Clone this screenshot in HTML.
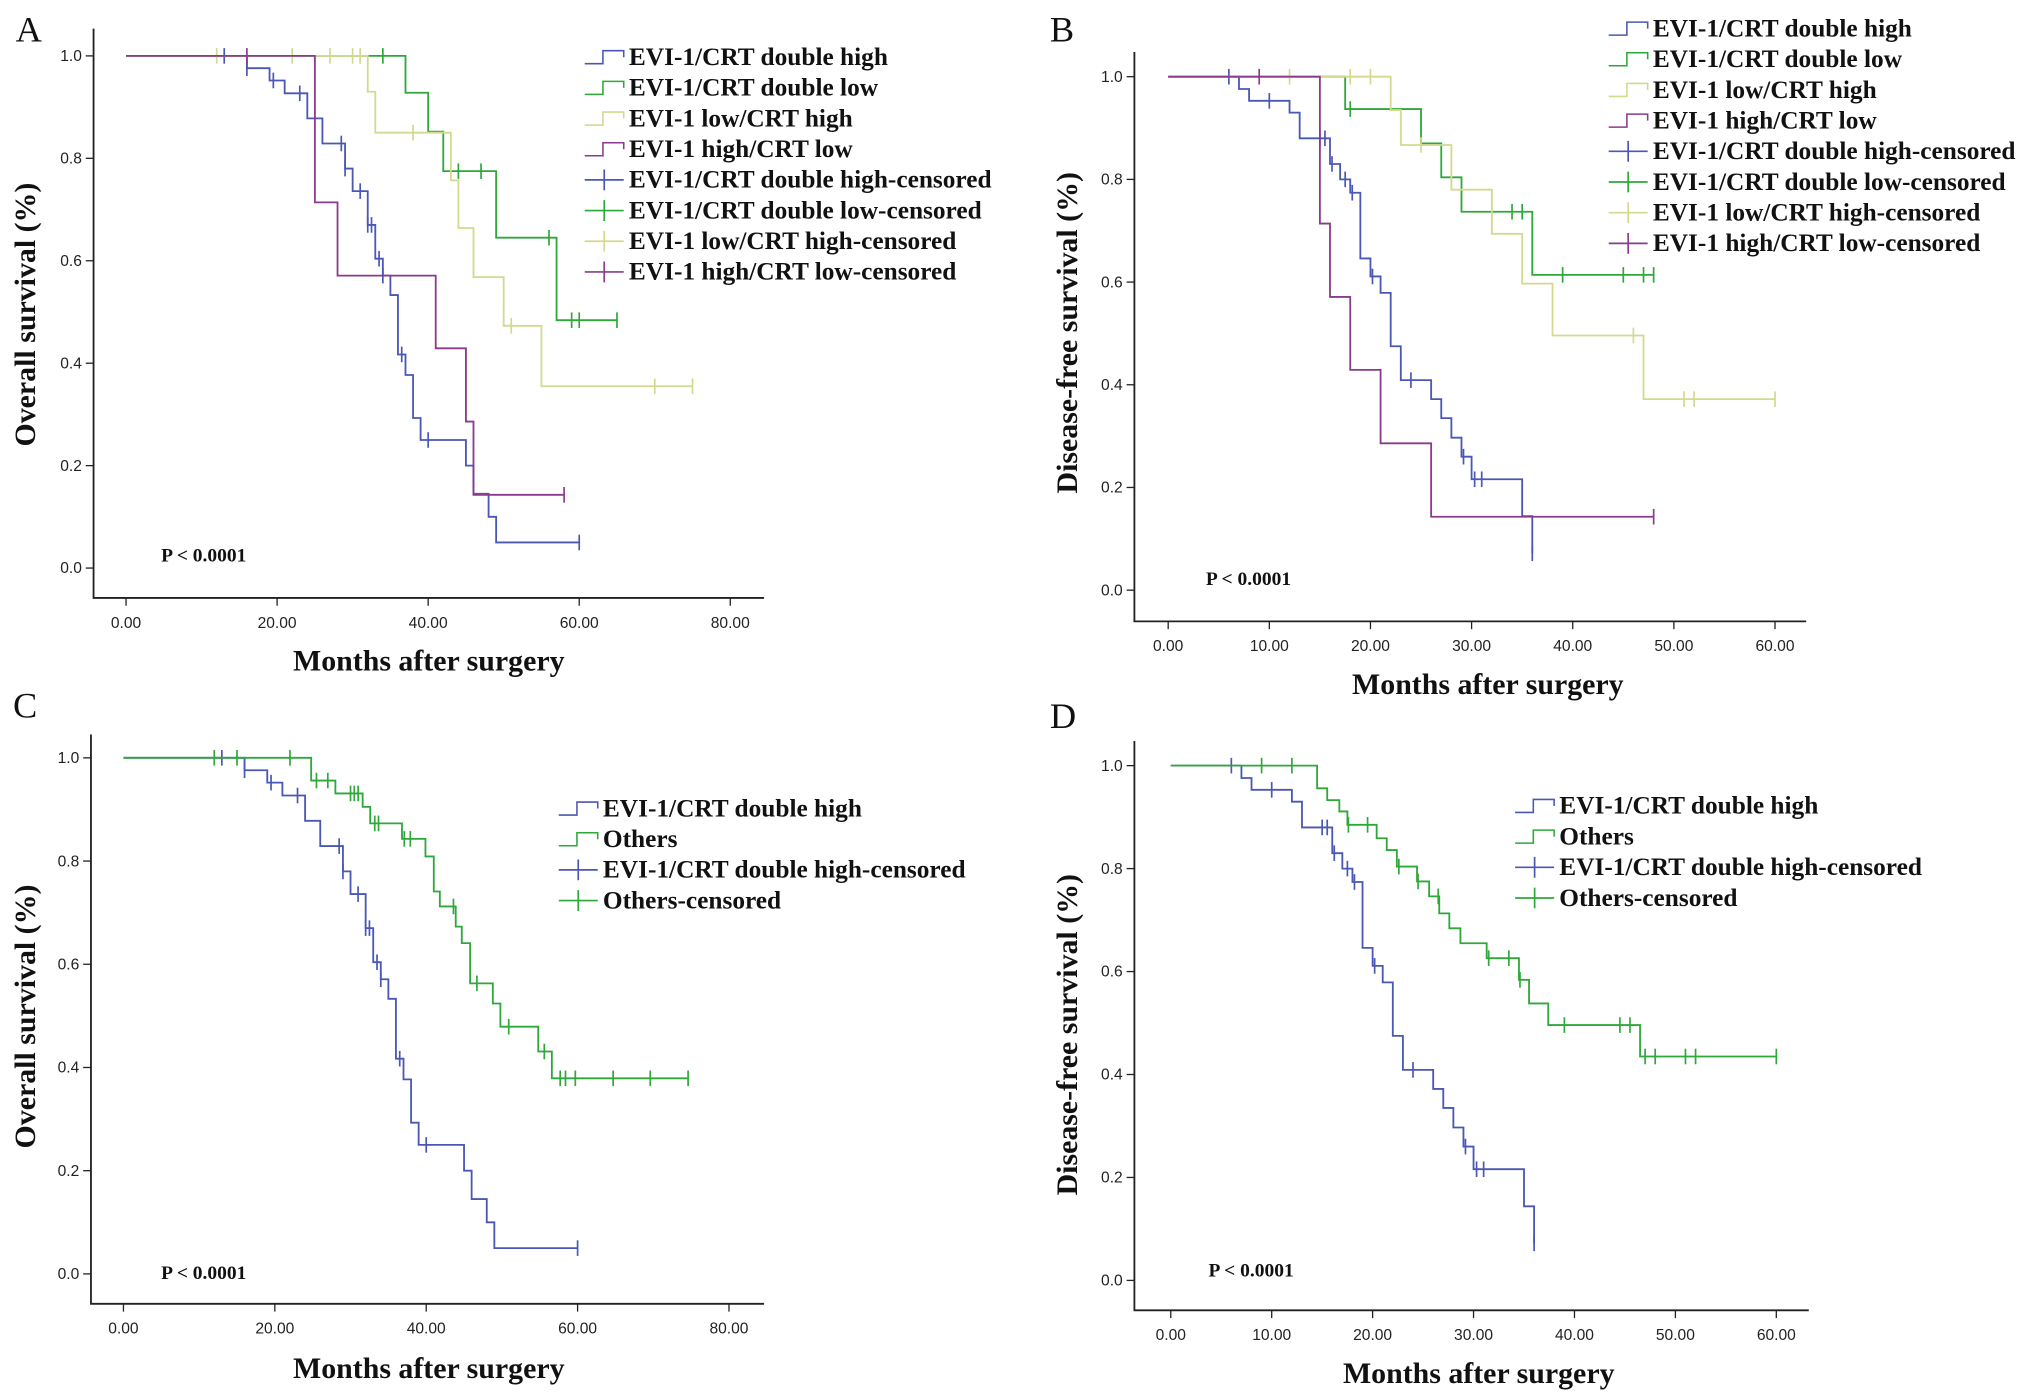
<!DOCTYPE html>
<html><head><meta charset="utf-8"><style>
html,body{margin:0;padding:0;background:#fff}
svg{display:block}
.tk{font-family:"Liberation Sans Narrow","Liberation Sans",sans-serif;font-size:12px;fill:#222}
.lg{font-family:"Liberation Serif",serif;font-weight:bold;font-size:19.5px;fill:#111}
.tt{font-family:"Liberation Serif",serif;font-weight:bold;font-size:23px;fill:#111}
.pl{font-family:"Liberation Serif",serif;font-size:28px;fill:#111}
.pv{font-family:"Liberation Serif",serif;font-weight:bold;font-size:15px;fill:#111}
</style></head><body>
<svg id="fig" width="2031" height="1400" viewBox="0 0 1563 1077" preserveAspectRatio="none" xmlns="http://www.w3.org/2000/svg"></svg>
<script>
// ---- data (months, survival) ----
const aHighT=[16,19,21,24,26,29,30,32,33,34,35,36,37,38,39,45,46,48,49];
const aHighS=[.976,.952,.927,.878,.829,.780,.736,.670,.604,.571,.533,.417,.377,.293,.250,.200,.145,.100,.050];
const aHighC=[13,16,19.5,23,28.5,29,31,32,32.5,33.5,34,36.5,40,60];
const aLowT=[37,40,42,49,57];
const aLowS=[.928,.852,.775,.645,.484];
const aLowC=[34,44,47,56,59,60,65];
const aLHT=[32,33,43,44,46,50,55];
const aLHS=[.93,.85,.757,.664,.568,.473,.355];
const aLHC=[12,22,27,30,31,38,51,70,75];
const aHLT=[25,28,41,45,46];
const aHLS=[.714,.571,.429,.286,.143];
const aHLC=[16,58];
const bHighT=[7,8,12,13,16,17,18,19,20,21,22,23,26,27,28,29,30,35,36];
const bHighS=[.976,.953,.93,.88,.83,.80,.774,.646,.611,.579,.475,.409,.372,.335,.297,.26,.216,.144,.072];
const bHighC=[6,10,15,15.5,16.2,17.5,18.2,20.2,24,29.2,30.3,31,36];
const bLowT=[17.5,25,27,29,36];
const bLowS=[.937,.87,.804,.737,.614];
const bLowC=[18,34,35,39,45,47,48];
const bLHT=[22,23,28,32,35,38,47];
const bLHS=[.935,.867,.78,.694,.597,.496,.372];
const bLHC=[12,18,20,25,46,51,52,60];
const bHLT=[15,16,18,21,26];
const bHLS=[.714,.571,.429,.286,.143];
const bHLC=[9,48];
const cOthT=[24.8,28,31.6,32.6,36.8,39.9,41,41.8,43.9,44.7,45.8,48.8,49.8,54.8,56.6];
const cOthS=[.956,.931,.905,.873,.843,.809,.741,.712,.673,.641,.563,.524,.479,.431,.379];
const cOthC=[12,15,22,25.5,27,30,30.5,31,33.2,33.7,37.1,37.9,43.6,46.7,50.9,55.6,57.7,58.4,59.7,64.7,69.6,74.6];
const dOthT=[14.5,15.5,16.7,17.5,20.4,21.4,22.4,24.4,25.6,26.6,27.6,28.7,31.3,34.5,35.5,37.4,46.5];
const dOthS=[.956,.933,.911,.885,.859,.836,.804,.775,.746,.713,.684,.655,.626,.584,.538,.496,.435];
const dOthC=[9,12,17.6,19.5,22.6,24.5,26.5,31.5,33.5,34.6,39,44.5,45.5,47,48,51,52,60];
const osTicks=[0,20,40,60,80];
const dfsTicks=[0,10,20,30,40,50,60];
const yTicks=[0,0.2,0.4,0.6,0.8,1.0];
const legend4=["EVI-1/CRT double high","EVI-1/CRT double low","EVI-1 low/CRT high","EVI-1 high/CRT low","EVI-1/CRT double high-censored","EVI-1/CRT double low-censored","EVI-1 low/CRT high-censored","EVI-1 high/CRT low-censored"];
const legend2=["EVI-1/CRT double high","Others","EVI-1/CRT double high-censored","Others-censored"];

const BLUE="#4b57b5",GREEN="#2fa83a",YEL="#d3d98f",PUR="#8a3b8c";
const NS="http://www.w3.org/2000/svg";
const svg=document.getElementById('fig');
function mk(tag,attrs,parent){const e=document.createElementNS(NS,tag);for(const k in attrs)e.setAttribute(k,attrs[k]);(parent||svg).appendChild(e);return e;}

function panel(p){
  const g=mk('g',{});
  
  
  const sx=t=>p.x0+(t-p.t0)/(p.t1-p.t0)*(p.x1-p.x0);
  const sy=s=>p.y0+(1-s)*(p.yb-p.y0);
  const ax=mk('path',{d:`M${p.ax} ${p.atop}V${p.ay}H${p.aright}`,fill:'none',stroke:'#222','stroke-width':1.4},g);
  
  
  yTicks.forEach(v=>{
    mk('line',{x1:p.ax-6,x2:p.ax,y1:sy(v),y2:sy(v),stroke:'#222','stroke-width':1},g);
    const t=mk('text',{x:p.ax-9,y:sy(v)+4,'text-anchor':'end',class:'tk'},g);t.textContent=v.toFixed(1);
    
    
  });
  p.xt.forEach(v=>{
    mk('line',{x1:sx(v),x2:sx(v),y1:p.ay,y2:p.ay+6,stroke:'#222','stroke-width':1},g);
    const t=mk('text',{x:sx(v),y:p.ay+23,'text-anchor':'middle',class:'tk'},g);t.textContent=v.toFixed(2);
    
    
  });
  const xt=mk('text',{x:p.xtx,y:p.xty,'text-anchor':'middle',class:'tt'},g);xt.textContent='Months after surgery';
  
  
  const yt=mk('text',{x:0,y:0,'text-anchor':'middle',class:'tt',transform:`translate(${p.ytx},${p.yty}) rotate(-90)`},g);yt.textContent=p.ytitle;
  
  
  const pl=mk('text',{x:p.lx,y:p.ly,class:'pl'},g);pl.textContent=p.letter;
  
  
  const pv=mk('text',{x:p.px,y:p.py,class:'pv'},g);pv.textContent='P < 0.0001';
  
  
  p.series.forEach(se=>{
    const T=se.t,S=se.s,C=se.c;
    let end=Math.max(T[T.length-1],C.length?Math.max(...C):0);
    let d=`M${sx(0)} ${sy(1)}`;
    T.forEach((t,i)=>{d+=`H${sx(t)}V${sy(S[i])}`;});
    d+=`H${sx(end)}`;
    const path=mk('path',{d:d,fill:'none',stroke:se.col,'stroke-width':1.4},g);
    
    
    C.forEach(c=>{
      let s=1;T.forEach((t,i)=>{if(t<=c)s=S[i];});
      const m=mk('line',{x1:sx(c),x2:sx(c),y1:sy(s)-6,y2:sy(s)+6,stroke:se.col,'stroke-width':1.3},g);
      
      
    });
  });
  p.leg.forEach((lab,i)=>{
    const y=p.legY+i*p.legDy;const col=p.legCol[i];const x=p.legX;
    const lg=mk('g',{},g);
    
    
    if(i<p.legCol.length/2){
      mk('path',{d:`M${x} ${y-1}H${x+14}V${y-11}H${x+30}V${y-6}`,fill:'none',stroke:col,'stroke-width':1.2},lg);
    }else{
      mk('path',{d:`M${x} ${y-6}H${x+30}M${x+15} ${y-14}V${y+2}`,fill:'none',stroke:col,'stroke-width':1.3},lg);
    }
    const t=mk('text',{x:x+34,y:y,class:'lg'},lg);t.textContent=lab;
  });
}

panel({name:'panel-a-overall-survival',letter:'A',lx:12,ly:32,t0:0,t1:80,x0:97,x1:562,y0:43,yb:437,ax:72,ay:460,atop:22,aright:588,xt:osTicks,
  xtx:330,xty:516,ytx:27,yty:242,ytitle:'Overall survival (%)',px:124,py:432,
  legX:450,legY:50,legDy:23.6,leg:legend4,legCol:[BLUE,GREEN,YEL,PUR,BLUE,GREEN,YEL,PUR],
  series:[{name:'a-double-high',t:aHighT,s:aHighS,c:aHighC,col:BLUE},{name:'a-double-low',t:aLowT,s:aLowS,c:aLowC,col:GREEN},
          {name:'a-low-high',t:aLHT,s:aLHS,c:aLHC,col:YEL},{name:'a-high-low',t:aHLT,s:aHLS,c:aHLC,col:PUR}]});
panel({name:'panel-b-disease-free-survival',letter:'B',lx:808,ly:32,t0:0,t1:60,x0:899,x1:1366,y0:59,yb:454,ax:873,ay:478,atop:40,aright:1390,xt:dfsTicks,
  xtx:1145,xty:534,ytx:829,yty:256,ytitle:'Disease-free survival (%)',px:928,py:450,
  legX:1238,legY:28,legDy:23.6,leg:legend4,legCol:[BLUE,GREEN,YEL,PUR,BLUE,GREEN,YEL,PUR],
  series:[{name:'b-double-high',t:bHighT,s:bHighS,c:bHighC,col:BLUE},{name:'b-double-low',t:bLowT,s:bLowS,c:bLowC,col:GREEN},
          {name:'b-low-high',t:bLHT,s:bLHS,c:bLHC,col:YEL},{name:'b-high-low',t:bHLT,s:bHLS,c:bHLC,col:PUR}]});
panel({name:'panel-c-overall-survival',letter:'C',lx:10,ly:552,t0:0,t1:80,x0:95,x1:561,y0:583,yb:980,ax:70,ay:1003,atop:565,aright:588,xt:osTicks,
  xtx:330,xty:1060,ytx:27,yty:782,ytitle:'Overall survival (%)',px:124,py:984,
  legX:430,legY:628,legDy:23.6,leg:legend2,legCol:[BLUE,GREEN,BLUE,GREEN],
  series:[{name:'c-double-high',t:aHighT,s:aHighS,c:aHighC,col:BLUE},{name:'c-others',t:cOthT,s:cOthS,c:cOthC,col:GREEN}]});
panel({name:'panel-d-disease-free-survival',letter:'D',lx:808,ly:560,t0:0,t1:60,x0:901,x1:1367,y0:589,yb:985,ax:873,ay:1008,atop:570,aright:1392,xt:dfsTicks,
  xtx:1138,xty:1064,ytx:829,yty:796,ytitle:'Disease-free survival (%)',px:930,py:982,
  legX:1166,legY:626,legDy:23.6,leg:legend2,legCol:[BLUE,GREEN,BLUE,GREEN],
  series:[{name:'d-double-high',t:bHighT,s:bHighS,c:bHighC,col:BLUE},{name:'d-others',t:dOthT,s:dOthS,c:dOthC,col:GREEN}]});
</script>
</body></html>
